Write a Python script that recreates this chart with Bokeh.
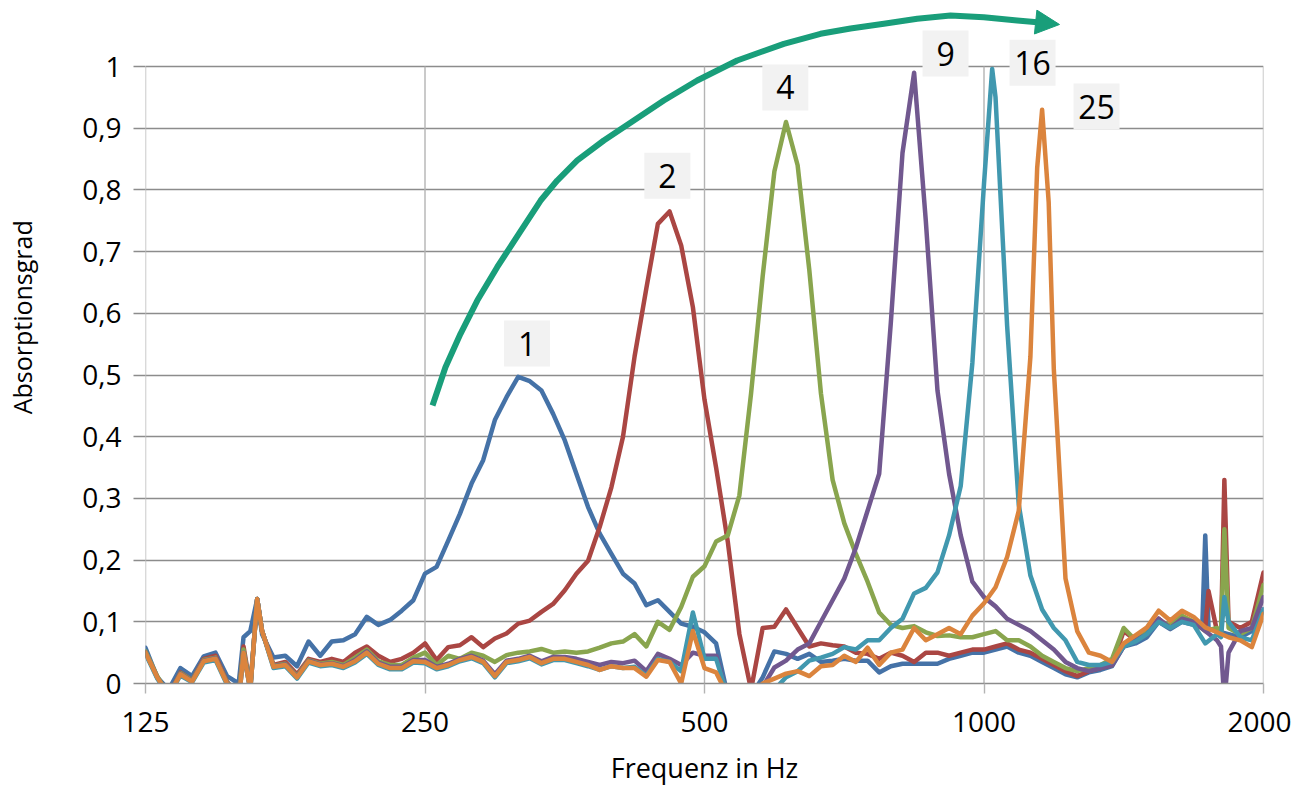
import math
from bokeh.plotting import figure
from bokeh.models import FixedTicker, CustomJSTickFormatter, Arrow, NormalHead
from bokeh.embed import file_html
from bokeh.resources import INLINE
from bokeh.core.properties import value

# ---------------- data ----------------
freq = [125.0, 128.7, 132.4, 136.3, 140.3, 144.4, 148.7, 153.0, 157.5, 162.1, 166.9, 171.7,
        176.8, 182.0, 187.3, 192.8, 198.4, 204.2, 210.2, 216.4, 222.7, 229.3, 236.0, 242.9,
        250.0, 257.3, 264.9, 272.6, 280.6, 288.8, 297.3, 306.0, 315.0, 324.2, 333.7, 343.5,
        353.6, 363.9, 374.6, 385.6, 396.9, 408.5, 420.4, 432.8, 445.4, 458.5, 471.9, 485.8,
        500.0, 514.6, 529.7, 545.2, 561.2, 577.6, 594.6, 612.0, 629.9, 648.4, 667.4, 687.0,
        707.1, 727.8, 749.2, 771.1, 793.7, 817.0, 840.9, 865.6, 891.0, 917.0, 943.9, 971.6,
        1000, 1029, 1059, 1090, 1122, 1155, 1189, 1224, 1260, 1297, 1335, 1374,
        1414, 1456, 1498, 1542, 1587, 1634, 1682, 1731, 1782, 1834, 1888, 1943, 2000]

s1 = [0.058, 0.01, -0.01, 0.025, 0.012, 0.044, 0.05, 0.012, 0.0, 0.085, 0.08, 0.042,
      0.045, 0.028, 0.068, 0.045, 0.068, 0.07, 0.08, 0.108, 0.095, 0.103, 0.118, 0.135,
      0.178, 0.189, 0.232, 0.275, 0.324, 0.362, 0.427, 0.464, 0.497, 0.49, 0.475, 0.437,
      0.394, 0.34, 0.286, 0.243, 0.21, 0.178, 0.162, 0.127, 0.135, 0.116, 0.097, 0.092,
      0.083, 0.065, -0.02, -0.03, -0.02, 0.01, 0.052, 0.048, 0.04, 0.048, 0.035, 0.037,
      0.04, 0.037, 0.037, 0.018, 0.028, 0.032, 0.032, 0.032, 0.032, 0.04, 0.045, 0.05,
      0.05, 0.055, 0.06, 0.05, 0.045, 0.035, 0.025, 0.015, 0.01, 0.018, 0.022, 0.028,
      0.06, 0.065, 0.075, 0.1, 0.088, 0.1, 0.095, 0.24, 0.085, 0.08, 0.075, 0.085, 0.12]
s1_xf = [159.4, 164.9, 1718, 1745]
s1_xv = [0.075, 0.137, 0.09, 0.09]

s2 = [0.05, 0.01, -0.02, 0.018, 0.005, 0.04, 0.045, 0.003, -0.02, -0.005, 0.085, 0.03,
      0.035, 0.015, 0.04, 0.035, 0.04, 0.035, 0.05, 0.06, 0.045, 0.035, 0.04, 0.05,
      0.065, 0.038, 0.059, 0.062, 0.075, 0.059, 0.073, 0.081, 0.097, 0.102, 0.116, 0.129,
      0.151, 0.178, 0.199, 0.254, 0.318, 0.4, 0.53, 0.64, 0.745, 0.765, 0.71, 0.61,
      0.46, 0.35, 0.23, 0.08, -0.01, 0.09, 0.092, 0.12, 0.09, 0.06, 0.065, 0.062,
      0.06, 0.05, 0.048, 0.04, 0.05, 0.045, 0.035, 0.05, 0.05, 0.045, 0.05, 0.055,
      0.055, 0.06, 0.065, 0.055, 0.05, 0.04, 0.03, 0.02, 0.012, 0.02, 0.025, 0.03,
      0.085, 0.07, 0.08, 0.105, 0.09, 0.105, 0.1, 0.09, 0.085, 0.1, 0.09, 0.1, 0.18]
s2_xf = [159.4, 164.9, 1745, 1800, 1815]
s2_xv = [0.06, 0.137, 0.15, 0.08, 0.33]

s4 = [0.052, 0.012, -0.02, 0.017, 0.005, 0.038, 0.042, 0.002, -0.02, -0.008, 0.085, 0.029,
      0.032, 0.012, 0.038, 0.032, 0.035, 0.03, 0.042, 0.055, 0.036, 0.03, 0.03, 0.042,
      0.05, 0.03, 0.045, 0.04, 0.05, 0.045, 0.035, 0.046, 0.05, 0.052, 0.056, 0.05,
      0.052, 0.05, 0.052, 0.058, 0.065, 0.068, 0.08, 0.06, 0.1, 0.087, 0.124, 0.173,
      0.19, 0.23, 0.24, 0.305, 0.47, 0.66, 0.83, 0.91, 0.84, 0.67, 0.47, 0.33,
      0.26, 0.21, 0.165, 0.115, 0.095, 0.09, 0.093, 0.083, 0.077, 0.078, 0.075, 0.075,
      0.08, 0.085, 0.07, 0.07, 0.06, 0.045, 0.035, 0.025, 0.02, 0.025, 0.03, 0.04,
      0.09, 0.07, 0.085, 0.1, 0.095, 0.11, 0.1, 0.085, 0.09, 0.09, 0.08, 0.09, 0.16]
s4_xf = [159.4, 164.9, 1800, 1815]
s4_xv = [0.055, 0.137, 0.085, 0.25]

s9 = [0.05, 0.01, -0.02, 0.016, 0.004, 0.037, 0.041, 0.001, -0.03, -0.01, 0.085, 0.028,
      0.031, 0.011, 0.037, 0.031, 0.033, 0.028, 0.038, 0.052, 0.034, 0.027, 0.027, 0.038,
      0.038, 0.027, 0.032, 0.04, 0.045, 0.037, 0.015, 0.037, 0.04, 0.045, 0.036, 0.043,
      0.043, 0.04, 0.035, 0.03, 0.035, 0.033, 0.037, 0.02, 0.048, 0.04, 0.03, 0.05,
      0.045, 0.045, -0.02, -0.03, -0.02, -0.005, 0.026, 0.037, 0.055, 0.065, 0.1, 0.135,
      0.17, 0.22, 0.28, 0.34, 0.585, 0.86, 0.99, 0.75, 0.475, 0.34, 0.24, 0.165,
      0.14, 0.125, 0.105, 0.095, 0.085, 0.07, 0.055, 0.035, 0.025, 0.02, 0.025, 0.03,
      0.06, 0.07, 0.08, 0.105, 0.09, 0.105, 0.1, 0.085, 0.07, 0.05, 0.085, 0.09, 0.14]
s9_xf = [159.4, 164.9, 1800, 1815]
s9_xv = [0.05, 0.137, 0.06, -0.03]

s16 = [0.048, 0.008, -0.02, 0.013, 0.002, 0.034, 0.038, -0.002, -0.03, -0.01, 0.085, 0.025,
       0.028, 0.008, 0.034, 0.028, 0.03, 0.025, 0.034, 0.048, 0.03, 0.023, 0.023, 0.034,
       0.033, 0.023, 0.028, 0.036, 0.041, 0.033, 0.01, 0.033, 0.036, 0.041, 0.031, 0.038,
       0.038, 0.033, 0.028, 0.022, 0.028, 0.025, 0.027, 0.013, 0.04, 0.035, 0.02, 0.115,
       0.04, 0.04, -0.02, -0.03, -0.03, -0.03, -0.01, 0.01, 0.02, 0.037, 0.042, 0.048,
       0.059, 0.055, 0.07, 0.07, 0.09, 0.105, 0.146, 0.155, 0.18, 0.24, 0.32, 0.52,
       0.81, 0.95, 0.58, 0.29, 0.175, 0.12, 0.09, 0.07, 0.035, 0.03, 0.03, 0.035,
       0.06, 0.068, 0.08, 0.1, 0.09, 0.1, 0.095, 0.065, 0.08, 0.1, 0.075, 0.07, 0.12]
s16_xf = [159.4, 164.9, 1020.5, 1800, 1815]
s16_xv = [0.05, 0.137, 0.996, 0.075, 0.14]

s25 = [0.05, 0.01, -0.02, 0.015, 0.003, 0.036, 0.04, 0.0, -0.03, -0.01, 0.085, 0.027,
       0.03, 0.01, 0.036, 0.03, 0.032, 0.027, 0.036, 0.05, 0.032, 0.025, 0.025, 0.036,
       0.035, 0.025, 0.03, 0.038, 0.043, 0.035, 0.012, 0.035, 0.038, 0.043, 0.033, 0.04,
       0.04, 0.035, 0.03, 0.022, 0.028, 0.025, 0.025, 0.011, 0.038, 0.035, 0.0, 0.085,
       0.025, 0.018, -0.02, -0.03, -0.02, 0.0, 0.008, 0.016, 0.02, 0.012, 0.028, 0.03,
       0.045, 0.035, 0.058, 0.03, 0.05, 0.055, 0.09, 0.07, 0.08, 0.09, 0.08, 0.11,
       0.13, 0.156, 0.205, 0.28, 0.53, 0.93, 0.51, 0.17, 0.085, 0.05, 0.045, 0.035,
       0.065, 0.078, 0.091, 0.118, 0.102, 0.118, 0.108, 0.091, 0.083, 0.075, 0.07, 0.059, 0.113]
s25_xf = [159.4, 164.9, 1141, 1174]
s25_xv = [0.05, 0.137, 0.836, 0.78]

series_names = ["1", "2", "4", "9", "16", "25"]
series_colors = ["#4572A7", "#AA4643", "#89A54E", "#71588F", "#4198AF", "#DB843D"]

# peak labels (positions of the grey boxes)
label_text = ["1", "2", "4", "9", "16", "25"]
label_f = [322, 456, 611, 909, 1128, 1322]
label_v = [0.551, 0.823, 0.966, 1.021, 1.006, 0.935]

# green trend arrow (annotation path)
arrow_f = [254.7, 263.0, 273.0, 284.6, 299.0, 315.5, 333.0, 347.0, 364.7, 389.5, 419.6,
           452.0, 491.0, 542.2, 608.7, 666.7, 718.2, 780.1, 847.4, 920.3, 999.5, 1085.8, 1141.1]
arrow_v = [0.4506, 0.5126, 0.5668, 0.6207, 0.6747, 0.7289, 0.7828, 0.8152, 0.8477, 0.8801,
           0.9125, 0.9449, 0.9773, 1.0097, 1.0368, 1.0530, 1.0616, 1.0692, 1.0773, 1.0827,
           1.0799, 1.0746, 1.0718]
arrow_tip = (1206.0, 1.0681)

x_ticks = [125, 250, 500, 1000, 2000]
y_ticks = [0.0, 0.1, 0.2, 0.3, 0.4, 0.5, 0.6, 0.7, 0.8, 0.9, 1.0]

FONT = "Open Sans"
GRID_DARK = "#8c8c8c"
GRID_LIGHT = "#b4b4b4"
ARROW_COLOR = "#199E7A"


def merged(base_f, base_v, extra_f, extra_v):
    pts = sorted(zip(list(base_f) + list(extra_f), list(base_v) + list(extra_v)))
    return [a for a, _ in pts], [b for _, b in pts]


series = [(s1, s1_xf, s1_xv), (s2, s2_xf, s2_xv), (s4, s4_xf, s4_xv),
          (s9, s9_xf, s9_xv), (s16, s16_xf, s16_xv), (s25, s25_xf, s25_xv)]

p = figure(x_axis_type="log", x_range=(125, 2000), y_range=(0, 1.0924),
           frame_width=1118, frame_height=674,
           min_border_left=145, min_border_right=28, min_border_top=9, min_border_bottom=100,
           output_backend="svg", toolbar_location=None)
p.outline_line_color = None
p.background_fill_color = "white"
p.border_fill_color = "white"

# grids
p.xgrid.grid_line_color = None
p.ygrid.ticker = FixedTicker(ticks=y_ticks)
p.ygrid.grid_line_color = GRID_DARK
p.ygrid.grid_line_width = 1.4
p.segment(x0=x_ticks, y0=[0] * len(x_ticks), x1=x_ticks, y1=[1] * len(x_ticks),
          line_color=GRID_LIGHT, line_width=1.4)

# axes
p.xaxis.ticker = FixedTicker(ticks=x_ticks, minor_ticks=[])
p.xaxis.formatter = CustomJSTickFormatter(code="return Math.round(tick).toString();")
p.xaxis.axis_line_color = GRID_DARK
p.xaxis.axis_line_width = 1.4
p.xaxis.major_tick_line_color = GRID_LIGHT
p.xaxis.major_tick_line_width = 1.4
p.xaxis.major_tick_out = 10
p.xaxis.major_tick_in = 0
p.xaxis.minor_tick_line_color = None
p.xaxis.major_label_text_font = FONT
p.xaxis.major_label_text_font_size = "28px"
p.xaxis.major_label_text_color = "black"
p.xaxis.major_label_standoff = 18
p.xaxis.axis_label = "Frequenz in Hz"
p.xaxis.axis_label_text_font = FONT
p.xaxis.axis_label_text_font_size = "27px"
p.xaxis.axis_label_text_font_style = "normal"
p.xaxis.axis_label_text_color = "black"
p.xaxis.axis_label_standoff = 14

p.yaxis.ticker = FixedTicker(ticks=y_ticks, minor_ticks=[])
p.yaxis.formatter = CustomJSTickFormatter(
    code="return (Math.round(tick*10)/10).toString().replace('.', ',');")
p.yaxis.axis_line_color = None
p.yaxis.major_tick_line_color = GRID_DARK
p.yaxis.major_tick_line_width = 1.4
p.yaxis.major_tick_out = 12
p.yaxis.major_tick_in = 0
p.yaxis.minor_tick_line_color = None
p.yaxis.major_label_text_font = FONT
p.yaxis.major_label_text_font_size = "28px"
p.yaxis.major_label_text_color = "black"
p.yaxis.major_label_standoff = 12
# leading no-break spaces lift the rotated title a little, as in the original
p.yaxis.axis_label = "\u00a0" * 9 + "Absorptionsgrad"
p.yaxis.axis_label_text_font = FONT
p.yaxis.axis_label_text_font_size = "25px"
p.yaxis.axis_label_text_font_style = "normal"
p.yaxis.axis_label_text_color = "black"
p.yaxis.axis_label_standoff = 40

# curves (series 1 drawn first, 25 on top)
for (vals, xf, xv), col in zip(series, series_colors):
    fx, fy = merged(freq, vals, xf, xv)
    p.line(fx, fy, line_color=col, line_width=4.5, line_join="round", line_cap="round")

# green arrow
p.line(arrow_f, arrow_v, line_color=ARROW_COLOR, line_width=6, line_cap="butt", line_join="round")
p.add_layout(Arrow(end=NormalHead(size=24, fill_color=ARROW_COLOR, line_color=ARROW_COLOR, line_width=1),
                   x_start=arrow_f[-1], y_start=arrow_v[-1], x_end=arrow_tip[0], y_end=arrow_tip[1],
                   line_color=ARROW_COLOR, line_width=6))

# peak labels
p.rect(x=label_f, y=label_v, width=46, height=46, width_units="screen", height_units="screen",
       fill_color="#f2f2f2", line_color=None)
p.text(x=label_f, y=label_v, text=label_text, text_font=value(FONT), text_font_size="32px",
       text_color="black", text_align="center", text_baseline="middle")

open("out.html", "w").write(file_html(p, INLINE))
